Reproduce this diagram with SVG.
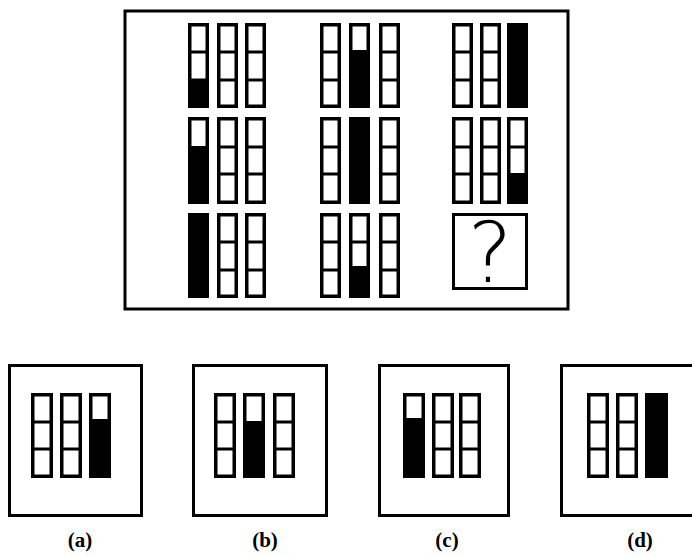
<svg xmlns="http://www.w3.org/2000/svg" width="692" height="557" viewBox="0 0 692 557">
<style>
.frame{fill:none;stroke:#000;stroke-width:3}
.bar{fill:#fff;stroke:#000;stroke-width:3.5}
.div{stroke:#000;stroke-width:3}
.fill{fill:#000}
.lbl{font-family:"Liberation Serif",serif;font-weight:bold;font-size:21px;text-anchor:middle;fill:#000}
.q{font-family:"DejaVu Sans",sans-serif;font-weight:300;font-size:84px;text-anchor:middle;fill:#000}
</style>
<rect width="692" height="557" fill="#fff"/>
<g id="matrix">
<rect class="frame" x="125" y="11" width="443" height="298"/>
</g>
<!-- Row 1 -->
<g id="r1c1">
<rect class="bar" x="189.75" y="24.75" width="17.5" height="81.5"/><line class="div" x1="189" y1="52" x2="208" y2="52"/><line class="div" x1="189" y1="80" x2="208" y2="80"/><rect class="fill" x="188" y="80" width="21" height="28"/>
<rect class="bar" x="218.75" y="24.75" width="17.5" height="81.5"/><line class="div" x1="218" y1="52" x2="237" y2="52"/><line class="div" x1="218" y1="80" x2="237" y2="80"/>
<rect class="bar" x="246.75" y="24.75" width="17.5" height="81.5"/><line class="div" x1="246" y1="52" x2="265" y2="52"/><line class="div" x1="246" y1="80" x2="265" y2="80"/>
</g>
<g id="r1c2">
<rect class="bar" x="321.75" y="24.75" width="17.5" height="81.5"/><line class="div" x1="321" y1="52" x2="340" y2="52"/><line class="div" x1="321" y1="80" x2="340" y2="80"/>
<rect class="bar" x="350.75" y="24.75" width="17.5" height="81.5"/><rect class="fill" x="349" y="50" width="21" height="58"/>
<rect class="bar" x="380.75" y="24.75" width="17.5" height="81.5"/><line class="div" x1="380" y1="52" x2="399" y2="52"/><line class="div" x1="380" y1="80" x2="399" y2="80"/>
</g>
<g id="r1c3">
<rect class="bar" x="453.75" y="24.75" width="17.5" height="81.5"/><line class="div" x1="453" y1="52" x2="472" y2="52"/><line class="div" x1="453" y1="80" x2="472" y2="80"/>
<rect class="bar" x="481.75" y="24.75" width="17.5" height="81.5"/><line class="div" x1="481" y1="52" x2="500" y2="52"/><line class="div" x1="481" y1="80" x2="500" y2="80"/>
<rect class="fill" x="507" y="23" width="21" height="85"/>
</g>
<!-- Row 2 -->
<g id="r2c1">
<rect class="bar" x="189.75" y="118.75" width="17.5" height="83.5"/><rect class="fill" x="188" y="146" width="21" height="58"/>
<rect class="bar" x="218.75" y="118.75" width="17.5" height="83.5"/><line class="div" x1="218" y1="147" x2="237" y2="147"/><line class="div" x1="218" y1="174" x2="237" y2="174"/>
<rect class="bar" x="246.75" y="118.75" width="17.5" height="83.5"/><line class="div" x1="246" y1="147" x2="265" y2="147"/><line class="div" x1="246" y1="174" x2="265" y2="174"/>
</g>
<g id="r2c2">
<rect class="bar" x="321.75" y="118.75" width="17.5" height="83.5"/><line class="div" x1="321" y1="147" x2="340" y2="147"/><line class="div" x1="321" y1="174" x2="340" y2="174"/>
<rect class="fill" x="349" y="117" width="21" height="87"/>
<rect class="bar" x="380.75" y="118.75" width="17.5" height="83.5"/><line class="div" x1="380" y1="147" x2="399" y2="147"/><line class="div" x1="380" y1="174" x2="399" y2="174"/>
</g>
<g id="r2c3">
<rect class="bar" x="453.75" y="118.75" width="17.5" height="83.5"/><line class="div" x1="453" y1="147" x2="472" y2="147"/><line class="div" x1="453" y1="174" x2="472" y2="174"/>
<rect class="bar" x="481.75" y="118.75" width="17.5" height="83.5"/><line class="div" x1="481" y1="147" x2="500" y2="147"/><line class="div" x1="481" y1="174" x2="500" y2="174"/>
<rect class="bar" x="508.75" y="118.75" width="17.5" height="83.5"/><line class="div" x1="508" y1="147" x2="527" y2="147"/><rect class="fill" x="507" y="173" width="21" height="31"/>
</g>
<!-- Row 3 -->
<g id="r3c1">
<rect class="fill" x="188" y="213" width="21" height="85"/>
<rect class="bar" x="218.75" y="214.75" width="17.5" height="81.5"/><line class="div" x1="218" y1="242" x2="237" y2="242"/><line class="div" x1="218" y1="270" x2="237" y2="270"/>
<rect class="bar" x="246.75" y="214.75" width="17.5" height="81.5"/><line class="div" x1="246" y1="242" x2="265" y2="242"/><line class="div" x1="246" y1="270" x2="265" y2="270"/>
</g>
<g id="r3c2">
<rect class="bar" x="321.75" y="214.75" width="17.5" height="81.5"/><line class="div" x1="321" y1="242" x2="340" y2="242"/><line class="div" x1="321" y1="270" x2="340" y2="270"/>
<rect class="bar" x="350.75" y="214.75" width="17.5" height="81.5"/><line class="div" x1="350" y1="242" x2="369" y2="242"/><rect class="fill" x="349" y="266" width="21" height="32"/>
<rect class="bar" x="380.75" y="214.75" width="17.5" height="81.5"/><line class="div" x1="380" y1="242" x2="399" y2="242"/><line class="div" x1="380" y1="270" x2="399" y2="270"/>
</g>
<g id="r3c3">
<rect class="frame" x="453.5" y="214.5" width="73" height="74"/>
<text class="q" x="490" y="282">?</text>
</g>
<!-- Options -->
<g id="opt-a">
<rect class="frame" x="9.5" y="365.5" width="132" height="150"/>
<rect class="bar" x="32.75" y="394.75" width="18.5" height="81.5"/><line class="div" x1="32" y1="422" x2="52" y2="422"/><line class="div" x1="32" y1="449" x2="52" y2="449"/>
<rect class="bar" x="61.75" y="394.75" width="18.5" height="81.5"/><line class="div" x1="61" y1="422" x2="81" y2="422"/><line class="div" x1="61" y1="449" x2="81" y2="449"/>
<rect class="bar" x="90.75" y="394.75" width="18.5" height="81.5"/><rect class="fill" x="89" y="419" width="22" height="59"/>
<text class="lbl" x="80" y="547">(a)</text>
</g>
<g id="opt-b">
<rect class="frame" x="193.5" y="365.5" width="133" height="150"/>
<rect class="bar" x="215.75" y="394.75" width="18.5" height="81.5"/><line class="div" x1="215" y1="422" x2="235" y2="422"/><line class="div" x1="215" y1="449" x2="235" y2="449"/>
<rect class="bar" x="244.75" y="394.75" width="18.5" height="81.5"/><rect class="fill" x="243" y="421" width="22" height="57"/>
<rect class="bar" x="274.75" y="394.75" width="18.5" height="81.5"/><line class="div" x1="274" y1="422" x2="294" y2="422"/><line class="div" x1="274" y1="449" x2="294" y2="449"/>
<text class="lbl" x="265" y="547">(b)</text>
</g>
<g id="opt-c">
<rect class="frame" x="379.5" y="365.5" width="129" height="150"/>
<rect class="bar" x="404.75" y="394.75" width="18.5" height="81.5"/><rect class="fill" x="403" y="418" width="22" height="60"/>
<rect class="bar" x="433.75" y="394.75" width="18.5" height="81.5"/><line class="div" x1="433" y1="422" x2="453" y2="422"/><line class="div" x1="433" y1="449" x2="453" y2="449"/>
<rect class="bar" x="460.75" y="394.75" width="18.5" height="81.5"/><line class="div" x1="460" y1="422" x2="480" y2="422"/><line class="div" x1="460" y1="449" x2="480" y2="449"/>
<text class="lbl" x="447" y="547">(c)</text>
</g>
<g id="opt-d">
<rect class="frame" x="561.5" y="365.5" width="134" height="150"/>
<rect class="bar" x="588.75" y="394.75" width="18.5" height="81.5"/><line class="div" x1="588" y1="422" x2="608" y2="422"/><line class="div" x1="588" y1="449" x2="608" y2="449"/>
<rect class="bar" x="617.75" y="394.75" width="18.5" height="81.5"/><line class="div" x1="617" y1="422" x2="637" y2="422"/><line class="div" x1="617" y1="449" x2="637" y2="449"/>
<rect class="fill" x="645" y="393" width="23" height="85"/>
<text class="lbl" x="640" y="547">(d)</text>
</g>
</svg>
